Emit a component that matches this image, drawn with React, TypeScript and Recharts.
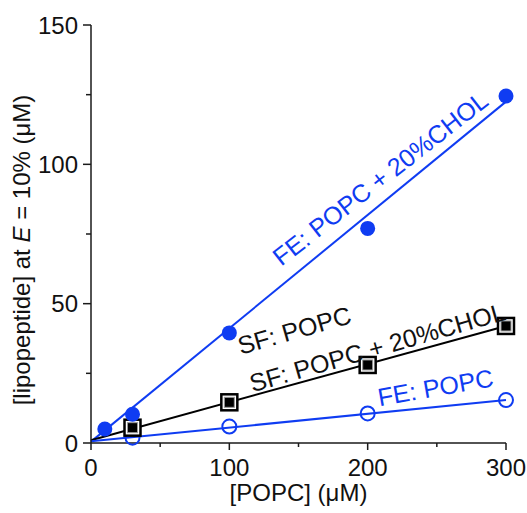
import React from "react"
import { ComposedChart, XAxis, YAxis, Line, Scatter, ReferenceDot } from "recharts"

// FE: POPC + 20%CHOL (filled blue circles)
const fecX = [10, 30, 100, 200, 300]
const fecY = [5, 10.3, 39.5, 77, 124.5]
// SF: POPC / SF: POPC + 20%CHOL (black squares)
const sfX = [30, 100, 200, 300]
const sfY = [5.5, 14.6, 28, 42]
// FE: POPC (open blue circles)
const feX = [30, 100, 200, 300]
const feY = [1.9, 5.9, 10.6, 15.4]

// linear fits, end points
const fitX = [0, 300]
const fecFit = [0.5, 122.5]
const sfFit = [1.0, 42]
const feFit = [0.6, 15.4]

const xTicks = [0, 50, 100, 150, 200, 250, 300]
const yTicks = [0, 25, 50, 75, 100, 125, 150]

const notes = [
    { text: "FE: POPC + 20%CHOL", x: 209, y: 95, angle: -38, color: "#0f3cf2" },
    { text: "SF: POPC", x: 147, y: 40.5, angle: -16, color: "#111" },
    { text: "SF: POPC + 20%CHOL", x: 207, y: 34.4, angle: -16, color: "#111" },
    { text: "FE: POPC", x: 249, y: 20, angle: -10, color: "#0f3cf2" },
]

const BLUE = "#0f3cf2"
const AX = "#1a1a1a"
const FONT = "'Liberation Sans', Arial, sans-serif"
const FS = 24

const zip = (xs: number[], ys: number[]) => xs.map((x, i) => ({ x, y: ys[i] }))

const BottomTick = (p: any) => {
    const v = p.payload.value
    const major = v % 100 === 0
    return (
        <g>
            <line x1={p.x} x2={p.x} y1={p.y} y2={p.y + (major ? 7 : 4)} stroke={AX} strokeWidth={1.5} />
            {major && <text x={p.x} y={p.y + 33} textAnchor="middle" fontSize={FS} fontFamily={FONT} fill="#111">{v}</text>}
        </g>
    )
}

const TopTick = (p: any) => {
    const major = p.payload.value % 100 === 0
    return <line x1={p.x} x2={p.x} y1={p.y} y2={p.y + (major ? 7 : 4)} stroke={AX} strokeWidth={1.5} />
}

const LeftTick = (p: any) => {
    const v = p.payload.value
    const major = v % 50 === 0
    return (
        <g>
            <line x1={p.x} x2={p.x - (major ? 8 : 5)} y1={p.y} y2={p.y} stroke={AX} strokeWidth={1.5} />
            {major && <text x={p.x - 13} y={p.y + 8.5} textAnchor="end" fontSize={FS} fontFamily={FONT} fill="#111">{v}</text>}
        </g>
    )
}

const RightTick = (p: any) => {
    const major = p.payload.value % 50 === 0
    return <line x1={p.x} x2={p.x - (major ? 8 : 5)} y1={p.y} y2={p.y} stroke={AX} strokeWidth={1.5} />
}

const FilledDot = (p: any) => <circle cx={p.cx} cy={p.cy} r={7.5} fill={BLUE} />
const OpenDot = (p: any) => <circle cx={p.cx} cy={p.cy} r={7} fill="#fff" fillOpacity={0} stroke={BLUE} strokeWidth={2} />
const SquareDot = (p: any) => (
    <g>
        <rect x={p.cx - 8} y={p.cy - 8} width={16} height={16} fill="#fff" stroke="#000" strokeWidth={2.5} />
        <rect x={p.cx - 5} y={p.cy - 5} width={10} height={10} fill="#000" stroke="#999" strokeWidth={1} />
    </g>
)

const noteLabel = (n: typeof notes[0]) => (props: any) => {
    const vb = props.viewBox
    const cx = vb.x + (vb.width || 0) / 2
    const cy = vb.y + (vb.height || 0) / 2
    return (
        <text x={cx} y={cy} textAnchor="middle" dominantBaseline="central" fontSize={25} fontFamily={FONT}
            fill={n.color} transform={`rotate(${n.angle}, ${cx}, ${cy})`}>{n.text}</text>
    )
}

const YLabel = (props: any) => {
    const vb = props.viewBox
    const x = vb.x + 30
    const y = vb.y + vb.height / 2 + 16
    return (
        <text x={x} y={y} textAnchor="middle" fontSize={FS} fontFamily={FONT} fill="#111" transform={`rotate(-90, ${x}, ${y})`}>
            [lipopeptide] at <tspan fontStyle="italic">E</tspan> = 10% (μM)
        </text>
    )
}

const XLabel = (props: any) => {
    const vb = props.viewBox
    return (
        <text x={vb.x + vb.width / 2} y={vb.y + 58} textAnchor="middle" fontSize={FS} fontFamily={FONT} fill="#111">
            [POPC] (μM)
        </text>
    )
}

export default function App() {
    return (
        <div style={{ position: "absolute", left: 0, top: 0 }}>
            <ComposedChart width={527} height={513} margin={{ top: 25, right: 21, left: 0, bottom: 0 }}>
                <XAxis xAxisId="b" dataKey="x" type="number" domain={[0, 300]} ticks={xTicks} interval={0}
                    tickSize={0} tickMargin={0} tick={BottomTick} tickLine={false} height={70}
                    axisLine={{ stroke: AX, strokeWidth: 1.5 }} label={{ content: XLabel }} />
                <XAxis xAxisId="t" orientation="top" type="number" domain={[0, 300]} ticks={xTicks} interval={0}
                    tickSize={0} tickMargin={0} tick={TopTick} tickLine={false} height={0}
                    axisLine={{ stroke: AX, strokeWidth: 1.5 }} />
                <YAxis yAxisId="l" dataKey="y" type="number" domain={[0, 150]} ticks={yTicks} interval={0}
                    tickSize={0} tickMargin={0} tick={LeftTick} tickLine={false} width={91}
                    axisLine={{ stroke: AX, strokeWidth: 1.5 }} label={{ content: YLabel }} />
                <YAxis yAxisId="r" orientation="right" type="number" domain={[0, 150]} ticks={yTicks} interval={0}
                    tickSize={0} tickMargin={0} tick={RightTick} tickLine={false} width={0}
                    axisLine={{ stroke: AX, strokeWidth: 1.5 }} />

                <Line xAxisId="b" yAxisId="l" data={zip(fitX, fecFit)} dataKey="y" type="linear" stroke={BLUE} strokeWidth={2} dot={false} isAnimationActive={false} />
                <Line xAxisId="b" yAxisId="l" data={zip(fitX, sfFit)} dataKey="y" type="linear" stroke="#000" strokeWidth={2} dot={false} isAnimationActive={false} />
                <Line xAxisId="b" yAxisId="l" data={zip(fitX, feFit)} dataKey="y" type="linear" stroke={BLUE} strokeWidth={2} dot={false} isAnimationActive={false} />

                <Scatter xAxisId="b" yAxisId="l" data={zip(feX, feY)} dataKey="y" shape={OpenDot} isAnimationActive={false} />
                <Scatter xAxisId="b" yAxisId="l" data={zip(sfX, sfY)} dataKey="y" shape={SquareDot} isAnimationActive={false} />
                <Scatter xAxisId="b" yAxisId="l" data={zip(fecX, fecY)} dataKey="y" shape={FilledDot} isAnimationActive={false} />

                {notes.map((n) => (
                    <ReferenceDot key={n.text} xAxisId="b" yAxisId="l" x={n.x} y={n.y} r={0} ifOverflow="visible"
                        label={{ content: noteLabel(n) }} />
                ))}
            </ComposedChart>
        </div>
    )
}
